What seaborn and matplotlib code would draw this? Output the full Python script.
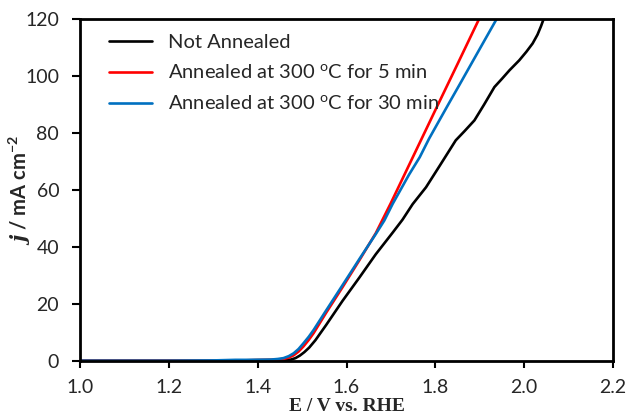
import numpy as np
import pandas as pd
import seaborn as sns
import matplotlib
matplotlib.use("Agg")
import matplotlib.pyplot as plt

# ---- data ----
v_not = [1.00, 1.10, 1.20, 1.30, 1.36, 1.40, 1.44, 1.46, 1.475, 1.485, 1.495, 1.505, 1.516,
         1.53, 1.554, 1.591, 1.629, 1.666, 1.704, 1.726, 1.749, 1.779, 1.81, 1.846, 1.865,
         1.888, 1.91, 1.933, 1.95, 1.967, 1.989, 2.005, 2.019, 2.03, 2.038, 2.045, 2.055]
j_not = [0.0, 0.0, 0.0, 0.0, 0.1, 0.2, 0.2, 0.25, 0.4, 0.9, 1.8, 3.0, 4.6,
         7.2, 12.5, 21.0, 29.2, 37.4, 45.0, 49.5, 55.0, 60.9, 68.5, 77.4, 80.5,
         84.4, 90.0, 96.1, 99.0, 102.0, 105.5, 108.5, 111.4, 114.5, 117.5, 120.5, 124.0]

v_5 = [1.00, 1.10, 1.20, 1.30, 1.36, 1.40, 1.43, 1.445, 1.458, 1.47, 1.481, 1.492, 1.503,
       1.515, 1.526, 1.554, 1.591, 1.629, 1.666, 1.70, 1.75, 1.80, 1.85, 1.90, 1.92]
j_5 = [0.0, 0.0, 0.0, 0.0, 0.1, 0.2, 0.3, 0.4, 0.6, 1.1, 1.9, 3.2, 5.0,
       7.3, 9.7, 16.8, 25.8, 35.3, 44.8, 55.4, 71.7, 88.0, 104.2, 120.5, 127.0]

v_30 = [1.00, 1.10, 1.20, 1.30, 1.35, 1.38, 1.41, 1.43, 1.445, 1.458, 1.47, 1.481, 1.492,
        1.503, 1.515, 1.526, 1.554, 1.591, 1.629, 1.666, 1.685, 1.704, 1.741, 1.765,
        1.786, 1.809, 1.831, 1.854, 1.884, 1.909, 1.938, 1.96]
j_30 = [0.0, 0.0, 0.0, 0.1, 0.3, 0.3, 0.35, 0.4, 0.6, 0.9, 1.6, 2.6, 4.1,
        6.1, 8.4, 10.8, 17.6, 26.5, 35.7, 44.5, 49.2, 55.1, 65.4, 71.5,
        78.0, 84.4, 90.5, 96.8, 105.1, 112.0, 120.0, 126.0]

labels = ["Not Annealed",
          "Annealed at 300 $^{\\mathregular{o}}$C for 5 min",
          "Annealed at 300 $^{\\mathregular{o}}$C for 30 min"]
colors = ["#000000", "#FF0000", "#0070C0"]

x_ticks = [1.0, 1.2, 1.4, 1.6, 1.8, 2.0, 2.2]
y_ticks = [0, 20, 40, 60, 80, 100, 120]

df = pd.concat([
    pd.DataFrame({"E": v_not, "j": j_not, "series": labels[0]}),
    pd.DataFrame({"E": v_5, "j": j_5, "series": labels[1]}),
    pd.DataFrame({"E": v_30, "j": j_30, "series": labels[2]}),
], ignore_index=True)

sns.set_style("ticks")
plt.rcParams["font.family"] = ["Lato", "DejaVu Sans"]
plt.rcParams["mathtext.fontset"] = "custom"
plt.rcParams["mathtext.it"] = "DejaVu Serif:italic:bold"
plt.rcParams["mathtext.bf"] = "DejaVu Sans:bold"

fig = plt.figure(figsize=(6.29, 4.17), dpi=100)
# axes: left 80px, right 613px, top 19px, bottom 360.7px
ax = fig.add_axes([80 / 629, 1 - 360.7 / 417, 533 / 629, 341.7 / 417])

sns.lineplot(data=df, x="E", y="j", hue="series", hue_order=labels,
             palette=dict(zip(labels, colors)), estimator=None, sort=False,
             linewidth=1.9, ax=ax)

ax.set_xlim(1.0, 2.2)
ax.set_ylim(0, 120)
ax.set_xticks(x_ticks)
ax.set_xticklabels([f"{t:.1f}" for t in x_ticks])
ax.set_yticks(y_ticks)
ax.tick_params(axis="both", labelsize=14, direction="out", width=1.5,
               color="black")
ax.tick_params(axis="x", length=5, pad=8.5)
ax.tick_params(axis="y", length=6, pad=9)
for s in ax.spines.values():
    s.set_visible(True)
    s.set_linewidth(2.0)
    s.set_color("black")

ax.set_xlabel("E / V vs. RHE", fontsize=14, fontweight="bold",
              family=["Liberation Serif", "DejaVu Serif"])
ax.xaxis.set_label_coords(0.5, -0.109)
ax.set_ylabel("$j$ / mA cm$^{\\mathregular{-2}}$", fontsize=14.5, fontweight="bold")
ax.yaxis.set_label_coords(-0.0875, 0.5)

leg = ax.legend(loc="upper left", frameon=False, fontsize=14.5, handlelength=2.15,
                handletextpad=0.8, labelspacing=0.62, borderaxespad=0.0,
                borderpad=0.4, bbox_to_anchor=(0.039, 0.98))
for line in leg.get_lines():
    line.set_linewidth(1.9)

fig.savefig("out.png", dpi=100, facecolor="white")
